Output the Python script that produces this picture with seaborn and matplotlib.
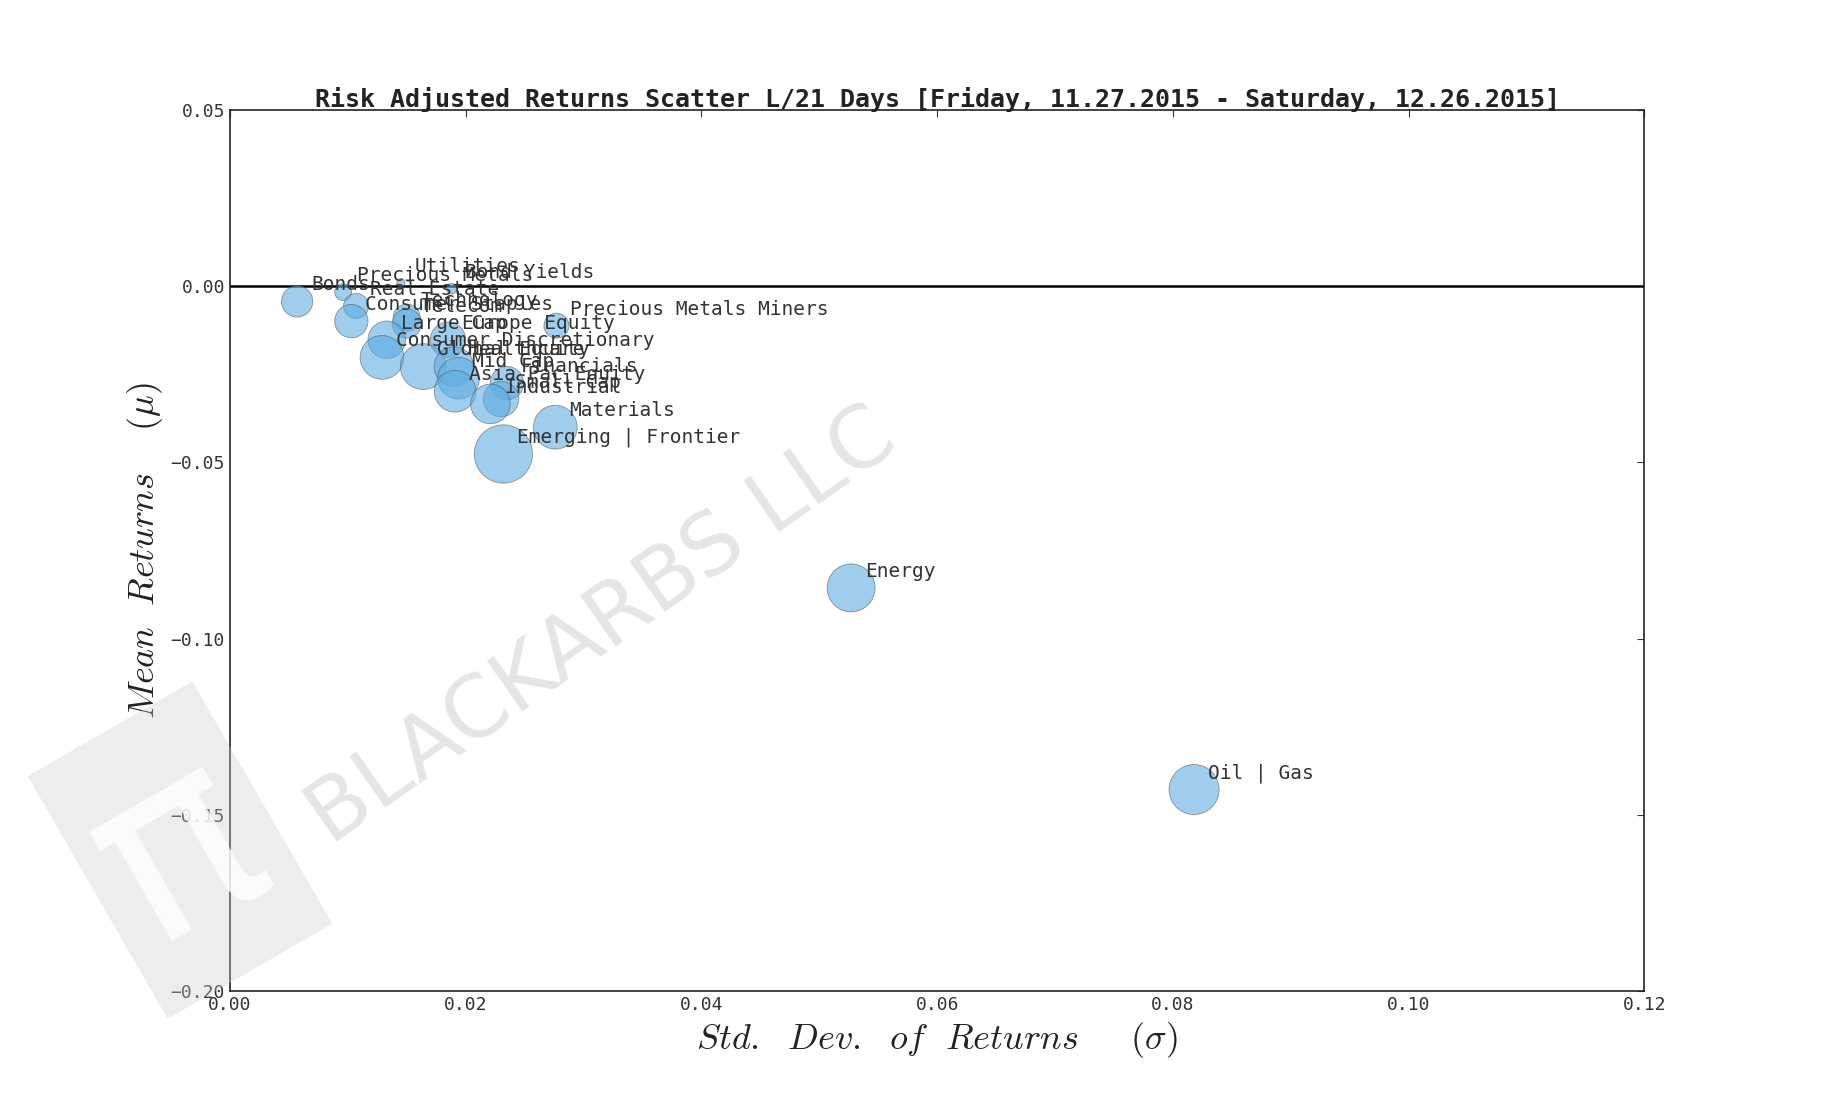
import matplotlib
matplotlib.use("Agg")
import matplotlib.pyplot as plt
import seaborn as sns
import pandas as pd
from matplotlib.patches import Rectangle
import matplotlib.transforms as mtransforms

labels = ["Bonds", "Precious Metals", "Utilities", "Bond Yields", "Real Estate",
          "Consumer Staples", "Technology", "Telecom", "Precious Metals Miners",
          "Large Cap", "Europe Equity", "Consumer Discretionary", "Global Equity",
          "Healthcare", "Mid Cap", "Financials", "Asia Pac Equity", "Small Cap",
          "Industrial", "Materials", "Emerging | Frontier", "Energy", "Oil | Gas"]
std = [0.0057, 0.0096, 0.0145, 0.0188, 0.0107, 0.0103, 0.0150, 0.0150, 0.0277,
       0.0133, 0.0185, 0.0129, 0.0164, 0.0190, 0.0194, 0.0235, 0.0191, 0.0230,
       0.0221, 0.0276, 0.0232, 0.0527, 0.0818]
mean = [-0.0043, -0.0017, 0.0010, -0.0007, -0.0056, -0.0099, -0.0089, -0.0106, -0.0112,
        -0.0152, -0.0152, -0.0202, -0.0228, -0.0228, -0.0261, -0.0275, -0.0298, -0.0320,
        -0.0334, -0.0400, -0.0476, -0.0856, -0.1428]
size = [15, 8, 4, 5, 12, 16, 13, 14, 12, 18, 17, 21, 22, 19, 20, 16, 20, 17, 19, 21, 28, 23, 24]

df = pd.DataFrame({"label": labels, "std": std, "mean": mean, "size": size})
df["area"] = (df["size"] / 0.851 * 0.72) ** 2 * 3.14159

sns.set_style("white")
plt.rcParams['font.family'] = ['DejaVu Sans Mono', 'DejaVu Sans']
plt.rcParams['mathtext.fontset'] = 'cm'
fig = plt.figure(figsize=(18.25, 11), dpi=100)
ax = fig.add_axes([0.126, 0.099, 0.775, 0.801])

ax.scatter(df["std"], df["mean"], s=df["area"], c="#5DADE2", alpha=0.6,
           edgecolors="#555555", linewidths=0.6, zorder=3)
for _, r in df.iterrows():
    ax.annotate(r["label"], (r["std"], r["mean"]), xytext=(10, 8),
                textcoords="offset points", fontsize=14, color="#333333", zorder=4)
ax.axhline(0, color="black", lw=1.8, zorder=2)
ax.set_xlim(0, 0.12)
ax.set_ylim(-0.20, 0.05)
ax.set_xticks([0, 0.02, 0.04, 0.06, 0.08, 0.10, 0.12])
ax.set_yticks([-0.20, -0.15, -0.10, -0.05, 0.00, 0.05])
ax.set_xticklabels(["0.00", "0.02", "0.04", "0.06", "0.08", "0.10", "0.12"])
ax.set_yticklabels(["\u22120.20", "\u22120.15", "\u22120.10", "\u22120.05", "0.00", "0.05"])
ax.tick_params(direction="in", top=True, right=True, length=5, labelsize=13, colors="#333333")
for s in ax.spines.values():
    s.set_color("#222222"); s.set_linewidth(1.2)
ax.set_xlabel(r"$Std.\ \ Dev.\ \ of\ \ Returns\ \ \ \ \ (\sigma)$", fontsize=26, color="#222222")
ax.set_ylabel(r"$Mean\ \ Returns\ \ \ \ (\mu)$", fontsize=26, color="#222222")
ax.set_title("Risk Adjusted Returns Scatter L/21 Days [Friday, 11.27.2015 - Saturday, 12.26.2015]",
             fontsize=18, fontweight="bold", color="#222222", pad=2)

# watermark
fig.text(0.33, 0.43, "BLACKARBS LLC", fontsize=62, color="#aaaaaa", alpha=0.3,
         rotation=35, ha="center", va="center", family="DejaVu Sans")
tr = mtransforms.Affine2D().rotate_deg_around(180, 250, 30) + mtransforms.IdentityTransform()
rect = Rectangle((85, 110), 190, 280, facecolor="#cccccc", alpha=0.35, edgecolor="none",
                 transform=tr)
fig.patches.append(rect)
fig.text(0.098, 0.225, "\u03c0", fontsize=180, color="white", alpha=0.8, rotation=30,
         ha="center", va="center", family="DejaVu Sans")

fig.savefig("out.png", dpi=100)
